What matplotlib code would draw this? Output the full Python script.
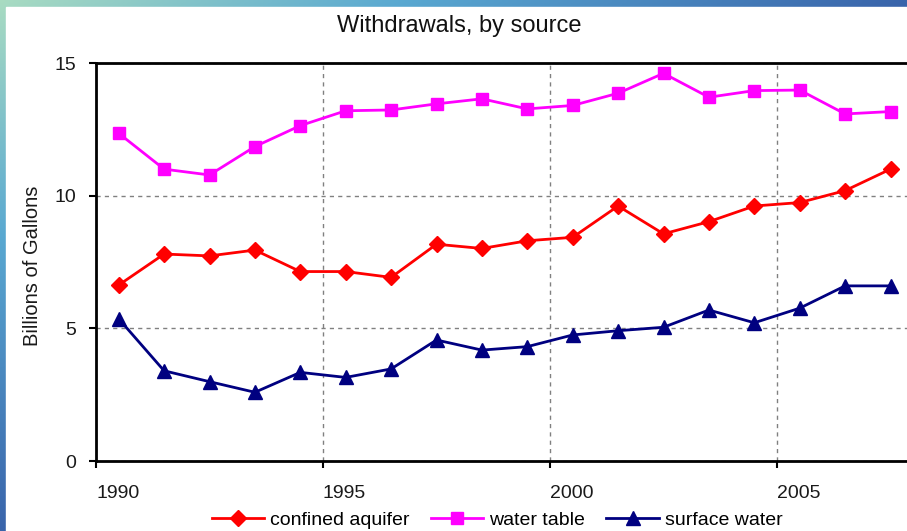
import numpy as np
import matplotlib
matplotlib.use("Agg")
import matplotlib.pyplot as plt
from matplotlib.patches import Rectangle

plt.rcParams['font.family'] = ['Liberation Sans', 'DejaVu Sans']

# withdrawals in billions of gallons, one value per year
years = list(range(1990, 2008))
confined_aquifer = [6.63, 7.80, 7.73, 7.95, 7.14, 7.14, 6.92, 8.17, 8.01, 8.30,
                    8.43, 9.61, 8.56, 9.02, 9.61, 9.74, 10.19, 11.00]
water_table = [12.35, 11.00, 10.78, 11.85, 12.64, 13.20, 13.23, 13.46, 13.65, 13.27,
               13.40, 13.86, 14.61, 13.71, 13.96, 13.98, 13.08, 13.17]
surface_water = [5.36, 3.40, 2.99, 2.59, 3.34, 3.15, 3.47, 4.56, 4.18, 4.31,
                 4.75, 4.91, 5.04, 5.69, 5.21, 5.76, 6.60, 6.60]

W, H = 907, 531
fig = plt.figure(figsize=(W / 100, H / 100), dpi=100)

# slide backdrop behind the chart panel
bg = fig.add_axes([0, 0, 1, 1], zorder=-2)
xx, yy = np.meshgrid(np.linspace(0, 1, 200), np.linspace(0, 1, 200))
t = np.clip(xx * 0.9 + yy * 0.9, 0, 1)
c0 = np.array([0.66, 0.86, 0.76])
c1 = np.array([0.35, 0.66, 0.82])
c2 = np.array([0.20, 0.34, 0.64])
tt = t[..., None]
grad = np.where(tt < 0.4, c0 + (c1 - c0) * (tt / 0.4), c1 + (c2 - c1) * ((tt - 0.4) / 0.6))
bg.imshow(grad, aspect='auto', extent=[0, 1, 0, 1], origin='upper')
bg.add_patch(Rectangle((6 / W, 0), 1, 1 - 7 / H, color='white'))
bg.set_xlim(0, 1)
bg.set_ylim(0, 1)
bg.axis('off')

ax = fig.add_axes([96 / W, 70 / H, 865 / W, 398 / H])
x = np.array(years) + 0.5

ax.plot(x, confined_aquifer, color='#ff0000', lw=2, marker='D', ms=8,
        label='confined aquifer', zorder=3)
ax.plot(x, water_table, color='#ff00ff', lw=2, marker='s', ms=8.5,
        label='water table', zorder=3)
ax.plot(x, surface_water, color='#000080', lw=2, marker='^', ms=9.5,
        label='surface water', zorder=3)

ax.set_xlim(1990, 1990 + 865 / 45.4)
ax.set_ylim(0, 15)
ax.set_xticks([1990, 1995, 2000, 2005])
ax.set_yticks([0, 5, 10, 15])
ax.grid(True, color='#808080', ls=(0, (3, 3)), lw=1)
ax.set_axisbelow(True)

for s in ['left', 'top', 'bottom']:
    ax.spines[s].set_linewidth(2)
    ax.spines[s].set_color('black')
ax.spines['right'].set_visible(False)

ax.tick_params(axis='both', direction='out', length=5, width=1.5, labelsize=14,
               labelcolor='#1a1a1a')
ax.tick_params(axis='y', pad=9)
ax.tick_params(axis='x', pad=12)
for lbl in ax.get_xticklabels():
    lbl.set_horizontalalignment('left')

fig.text(459 / W, 1 - 26 / H, 'Withdrawals, by source', ha='center', va='center',
         fontsize=17, color='#111111')
fig.text(33 / W, 1 - 266 / H, 'Billions of Gallons', ha='center', va='center',
         rotation=90, fontsize=14.5, color='#1a1a1a')

fig.legend(loc='center', bbox_to_anchor=(497 / W, 1 - 520 / H), ncol=3,
           frameon=False, fontsize=14, handlelength=2.7, handletextpad=0.3,
           columnspacing=1.1, borderaxespad=0, borderpad=0)

fig.savefig('out.png', dpi=100)
